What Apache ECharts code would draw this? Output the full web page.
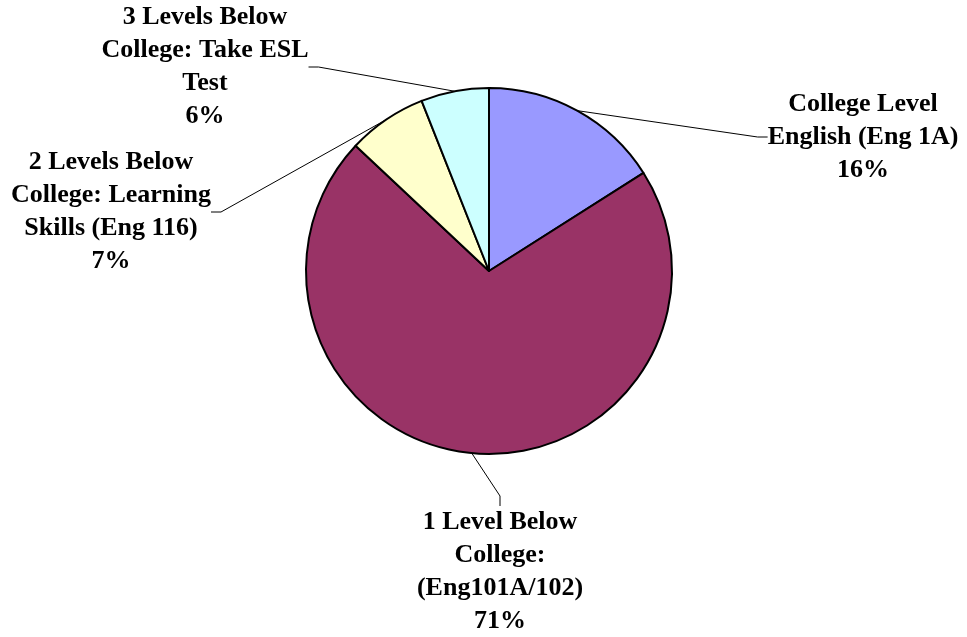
<!DOCTYPE html>
<html>
<head>
<meta charset="utf-8">
<script src="https://cdn.jsdelivr.net/npm/echarts@6/dist/echarts.min.js"></script>
<style>html,body{margin:0;padding:0;background:#fff}#c{width:967px;height:637px}</style>
</head>
<body>
<div id="c"></div>
<script>
const categories = [
  'College Level\nEnglish (Eng 1A)',
  '1 Level Below\nCollege:\n(Eng101A/102)',
  '2 Levels Below\nCollege: Learning\nSkills (Eng 116)',
  '3 Levels Below\nCollege: Take ESL\nTest'
];
const values = [16, 71, 7, 6];
const colors = ['#9999FF', '#993366', '#FFFFCC', '#CCFFFF'];
const labelCenters = [[863, 137], [500, 572], [111, 212], [205, 67]];

const chart = echarts.init(document.getElementById('c'), null, {renderer: 'canvas'});
chart.setOption({
  backgroundColor: '#fff',
  animation: false,
  series: [{
    type: 'pie',
    center: [489, 271],
    radius: [0, 183],
    startAngle: 90,
    clockwise: true,
    percentPrecision: 0,
    data: categories.map((c, i) => ({name: c, value: values[i], itemStyle: {color: colors[i]}})),
    itemStyle: {borderColor: '#000', borderWidth: 2},
    label: {
      show: true,
      position: 'outside',
      formatter: '{b}\n{d}%',
      fontFamily: 'Liberation Serif',
      fontWeight: 'bold',
      fontSize: 26,
      lineHeight: 33,
      color: '#000',
      align: 'center'
    },
    labelLine: {show: true, length: 10, length2: 10, lineStyle: {color: '#000', width: 1}},
    labelLayout: function (p) {
      const c = labelCenters[p.dataIndex];
      return {x: c[0], y: c[1], align: 'center', verticalAlign: 'middle'};
    },
    emphasis: {disabled: true}
  }]
});
</script>
</body>
</html>
